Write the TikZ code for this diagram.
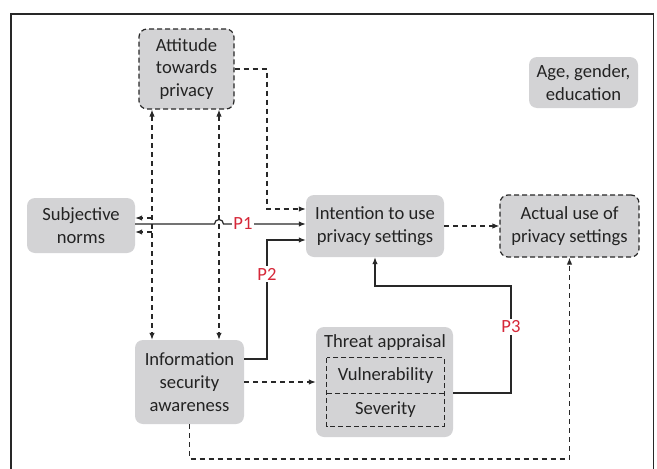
\documentclass[tikz,border=0pt]{standalone}
\usepackage{fontspec}
\setmainfont{Carlito}
\usetikzlibrary{arrows.meta}
\definecolor{boxgray}{RGB}{211,211,213}
\definecolor{linegray}{RGB}{40,40,40}
\definecolor{txtgray}{RGB}{35,35,35}
\definecolor{pred}{RGB}{214,40,57}
\begin{document}
\begin{tikzpicture}[x=1pt, y=1pt,
  box/.style={fill=boxgray, rounded corners=8pt, align=center, inner sep=0pt,
    text=txtgray, font=\fontsize{18.6}{22.7}\selectfont},
  dbox/.style={box, draw=linegray, line width=1.2pt, dash pattern=on 5pt off 3pt},
  slink/.style={draw=linegray, line width=1.2pt, -{Latex[length=7pt,width=5.5pt]}},
  dlink/.style={slink, dash pattern=on 5pt off 4pt},
  plab/.style={text=pred, fill=white, inner sep=1.5pt, font=\fontsize{18.6}{20}\selectfont}]
  \useasboundingbox (0,0) rectangle (657,-469);

  % Frame
  \draw[linegray, line width=1.2pt] (11,-469) |- (653.5,-14) -- (653.5,-469);

  % Constructs
  \node[dbox, minimum width=95pt, minimum height=80pt] (att) at (186.5,-69) {Attitude\\towards\\privacy};
  \node[box, minimum width=108pt, minimum height=55pt] (sub) at (81,-225.5) {Subjective\\norms};
  \node[box, minimum width=138pt, minimum height=62pt] (int) at (375,-226) {Intention to use\\privacy settings};
  \node[dbox, minimum width=139pt, minimum height=62pt] (act) at (569.5,-226) {Actual use of\\privacy settings};
  \node[box, minimum width=109pt, minimum height=51pt] (age) at (583.5,-82.5) {Age, gender,\\education};
  \node[box, minimum width=109pt, minimum height=84pt] (isa) at (189.5,-382) {Information\\security\\awareness};

  % Threat appraisal with its two parts
  \node[box, minimum width=137pt, minimum height=110pt] (thr) at (384.5,-382) {};
  \node[box, fill=none] (thrlab) at (385,-343) {Threat appraisal};
  \node[box, fill=none, minimum width=117pt, minimum height=35pt] (vul) at (385.5,-375.5) {Vulnerability};
  \node[box, fill=none, minimum width=117pt, minimum height=33pt] (sev) at (385.5,-409.5) {Severity};
  \draw[linegray, line width=1.2pt, dash pattern=on 5pt off 3pt]
    (vul.north west) rectangle (sev.south east) (vul.south west) -- (vul.south east);

  % Bend points
  \coordinate (v1) at (152,0);
  \coordinate (v2) at (219,0);
  \coordinate (a1) at (267,-209);
  \coordinate (p1) at (0,-224);
  \coordinate (p2) at (267,-240);
  \coordinate (q2) at (0,-359);
  \coordinate (s1) at (0,-218);
  \coordinate (s2) at (0,-232);
  \coordinate (t3) at (511,-393);
  \coordinate (r3) at (0,-286);
  \coordinate (b1) at (0,-459);

  % Dashed links
  \draw[dlink] (att.east) -| (a1) -- (a1 -| int.west);
  \draw[dlink, {Latex[length=7pt,width=5.5pt]}-{Latex[length=7pt,width=5.5pt]}] (att.south -| v1) -- (isa.north -| v1);
  \draw[dlink, {Latex[length=7pt,width=5.5pt]}-{Latex[length=7pt,width=5.5pt]}] (att.south -| v2) -- (isa.north -| v2);
  \draw[dlink] (v1 |- s1) -- (sub.east |- s1);
  \draw[dlink] (v1 |- s2) -- (sub.east |- s2);
  \draw[dlink] (int.east) -- (act.west);
  \draw[dlink] (isa.east) -- (thr.west);
  \draw[dlink] (isa.south) -- (isa.south |- b1) -| (act.south);

  % Hypotheses
  \draw[slink] (sub.east |- p1) -- ([xshift=-4.5pt]v2 |- p1)
    arc[start angle=180, end angle=0, radius=4.5pt] -- (int.west |- p1);
  \node[plab] (h1) at (243,-224) {P1};
  \draw[slink] (isa.east |- q2) -| (p2) -- (p2 -| int.west);
  \node[plab] (h2) at (267,-274) {P2};
  \draw[slink] (thr.east |- t3) -- (t3) |- (int.south |- r3) -- (int.south);
  \node[plab] (h3) at (511,-327) {P3};

\end{tikzpicture}
\end{document}
